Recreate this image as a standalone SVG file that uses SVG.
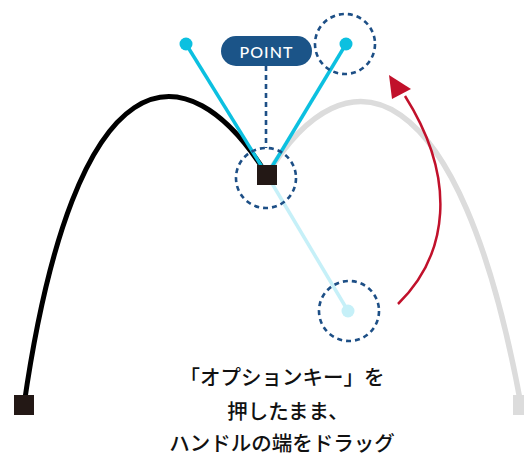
<svg xmlns="http://www.w3.org/2000/svg" width="524" height="457" viewBox="0 0 524 457">
<defs>
<style>
.curve{fill:none;stroke-linecap:butt}
.handle{stroke:#0cc0e0;stroke-width:3.5;fill:none}
.hdot{fill:#0cc0e0}
.ghost{stroke:#c6f0f8;stroke-width:3.5;fill:none}
.gdot{fill:#c6f0f8}
.anchor{fill:#231815}
.dash{fill:none;stroke:#1d4f86;stroke-width:2.6;stroke-dasharray:5 4}
.label{font-family:"Noto Sans CJK JP","Noto Sans",sans-serif;font-size:20.5px;font-weight:500;fill:#111;text-anchor:middle}
</style>
</defs>
<rect width="524" height="457" fill="#ffffff"/>
<g id="connectors">
<path id="gray-curve" class="curve" d="M267,175 C346,44 460,70 521,405" stroke="#dcdcdc" stroke-width="5.5"/>
<path id="black-curve" class="curve" d="M24,405 C75,50 186,44 267,175" stroke="#000000" stroke-width="5"/>
<line class="ghost" x1="267" y1="175" x2="348" y2="311"/>
<line class="handle" x1="267" y1="175" x2="186" y2="44"/>
<line class="handle" x1="267" y1="175" x2="346" y2="44"/>
<line class="dash" x1="266" y1="66" x2="266" y2="148"/>
<path id="drag-arrow" d="M398,304 C448,255 458,180 405,96" fill="none" stroke="#c1112b" stroke-width="2.5"/>
<polygon points="389,75 392,99 411,89" fill="#c1112b"/>
</g>
<g id="handle-left"><circle class="hdot" cx="186" cy="44" r="6.5"/></g>
<g id="handle-right"><circle class="hdot" cx="346" cy="44" r="6.5"/><circle class="dash" cx="345" cy="44" r="30"/></g>
<g id="handle-ghost"><circle class="gdot" cx="348" cy="311" r="6.5"/><circle class="dash" cx="349" cy="311" r="30"/></g>
<g id="anchor-left"><rect class="anchor" x="14" y="395" width="20" height="20"/></g>
<g id="anchor-mid"><rect class="anchor" x="257" y="165" width="20" height="20"/><circle class="dash" cx="266" cy="178" r="30"/></g>
<g id="anchor-right"><rect x="513" y="395" width="20" height="20" fill="#dcdcdc"/></g>
<g id="point-label">
<rect x="221" y="36" width="91" height="30" rx="15" fill="#1b5488"/>
<text x="266.5" y="57.5" font-family="Lato,'Noto Sans',sans-serif" font-size="16" font-weight="500" fill="#ffffff" text-anchor="middle" letter-spacing="1">POINT</text>
</g>
<g id="caption">
<text class="label" x="282" y="384.5">「オプションキー」を</text>
<text class="label" x="288" y="419">押したまま、</text>
<text class="label" x="282" y="451">ハンドルの端をドラッグ</text>
</g>
</svg>
